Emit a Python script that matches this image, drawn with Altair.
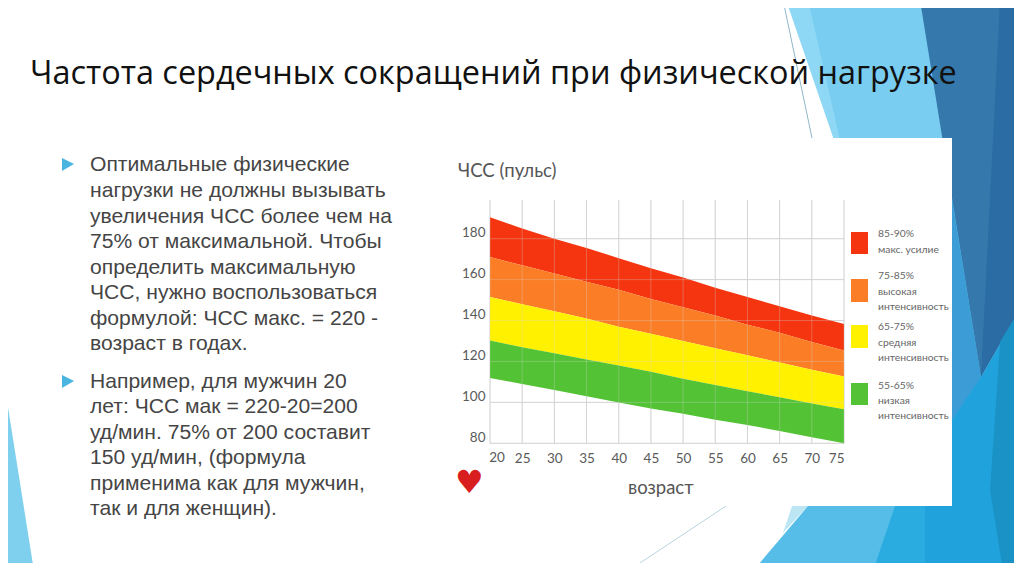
import altair as alt
import pandas as pd

W, H = 1006, 555
OX, OY = 8, 8

title_text = "Частота сердечных сокращений при физической нагрузке"
body_lines = [
    "Оптимальные физические", "нагрузки не должны вызывать", "увеличения ЧСС более чем на",
    "75% от максимальной. Чтобы", "определить максимальную", "ЧСС, нужно воспользоваться",
    "формулой: ЧСС макс. = 220 -", "возраст в годах.",
    "Например, для мужчин 20", "лет: ЧСС мак = 220-20=200", "уд/мин. 75% от 200 составит",
    "150 уд/мин, (формула", "применима как для мужчин,", "так и для женщин).",
]
body_y = [165, 191, 217, 242, 268, 293, 319, 344, 382, 407, 433, 458, 484, 509]

ages = [20, 25, 30, 35, 40, 45, 50, 55, 60, 65, 70, 75]
top_line = [190.5, 185, 180, 175.5, 170.5, 165.5, 161, 156, 151.5, 147, 142.5, 138.3]
red_orange = [171, 167, 163, 159, 155, 150.5, 146.5, 142.5, 138, 134, 129.5, 125.3]
orange_yellow = [151.5, 148, 144.5, 141, 137, 133.5, 130, 126.5, 123, 119.5, 116, 112.6]
yellow_green = [130.2, 127, 124, 121, 118, 115, 111.5, 108.5, 105.5, 102.5, 99.5, 96.6]
bottom_line = [111.9, 109, 106, 103, 100, 97, 94.5, 91.5, 89, 86, 83, 80]
pulse_ticks = [80, 100, 120, 140, 160, 180]

band_names = ["85-90%", "75-85%", "65-75%", "55-65%"]
band_colors = ["#f4350f", "#fb7e27", "#fff100", "#53c235"]
legend_lines = [
    ["85-90%", "макс. усилие"], ["75-85%", "высокая", "интенсивность"],
    ["65-75%", "средняя", "интенсивность"], ["55-65%", "низкая", "интенсивность"],
]
legend_swatch_y = [(232, 254), (279, 302), (325, 348), (383, 405)]
legend_text_y = [[234, 250], [276, 292, 307], [327, 343, 358], [386, 401, 416]]

# decorative slide shapes, in page pixels
decor = [
    ("#8fd8f5", [(786, 0), (925, 0), (960, 140), (960, 510), (834, 140)]),
    ("#79cdf0", [(808, 0), (921, 0), (982, 377), (952, 520), (840, 140)]),
    ("#56b7e6", [(900, 138), (945, 138), (982, 377), (952, 440), (952, 138)]),
    ("#3578ab", [(920, 0), (1022, 0), (1022, 306), (981, 377)]),
    ("#2a6ca3", [(1000, 0), (1022, 0), (1022, 306), (981, 377)]),
    ("#3c9dd6", [(952, 200), (981, 377), (952, 430)]),
    ("#bde6f5", [(792, 506), (808, 506), (783, 533)]),
    ("#56bde8", [(808, 506), (952, 506), (952, 571), (753, 571)]),
    ("#2bace0", [(895, 506), (952, 506), (952, 571), (873, 571)]),
    ("#20a3dc", [(952, 420), (981, 377), (1022, 306), (1022, 571), (925, 571), (925, 506), (952, 506)]),
    ("#1b92c6", [(1000, 342), (1022, 306), (1022, 571), (1003, 571), (990, 490)]),
    ("#7fd0ef", [(0, 357), (34, 571), (0, 571)]),
    ("#ffffff", [(440, 138), (952, 138), (952, 506), (440, 506)]),
    ("#4ab5e0", [(62, 158), (74, 164), (62, 171)]),
    ("#4ab5e0", [(62, 375), (74, 381), (62, 388)]),
]
features = [
    {"type": "Feature", "properties": {"fill": c},
     "geometry": {"type": "Polygon",
                  "coordinates": [[[x - OX, y - OY] for x, y in pts] + [[pts[0][0] - OX, pts[0][1] - OY]]]}}
    for c, pts in decor
]
shapes = alt.Chart(alt.InlineData(values=features)).mark_geoshape(stroke=None).encode(
    fill=alt.Fill("properties.fill:N", scale=None)
).project(type="identity", scale=1, translate=[0, 0])


def page_line(x1, y1, x2, y2, color, w=1):
    return alt.Chart(pd.DataFrame({"a": [0]})).mark_rule(color=color, strokeWidth=w).encode(
        x=alt.value(x1 - OX), x2=alt.value(x2 - OX), y=alt.value(y1 - OY), y2=alt.value(y2 - OY)
    )


def page_text(txt, x, y, **kw):
    return alt.Chart(pd.DataFrame({"t": [txt]})).mark_text(baseline="middle", align="left", **kw).encode(
        x=alt.value(x - OX), y=alt.value(y - OY), text="t:N"
    )


X = alt.Scale(domain=[20, 75], range=[490 - OX, 844 - OX])
Y = alt.Scale(domain=[80, 180], range=[443.3 - OY, 238.7 - OY])
AX = alt.Axis(values=ages[1:], title=None, grid=False, domain=False, ticks=False, zindex=1,
              offset=-(H - (443.3 - OY)), labelPadding=8, labelFontSize=13.5,
              labelFont="Lato", labelColor="#5a5a5a")
AY = alt.Axis(values=pulse_ticks, title=None, grid=False, domain=False, ticks=False, zindex=1,
              offset=-(490 - OX), labelPadding=5, labelOffset=-6, labelFontSize=13.5,
              labelFont="Lato", labelColor="#5a5a5a")

bounds = [top_line, red_orange, orange_yellow, yellow_green, bottom_line]
rows = []
for i, name in enumerate(band_names):
    for a, hi, lo in zip(ages, bounds[i], bounds[i + 1]):
        rows.append({"age": a, "hi": hi, "lo": lo, "band": name})
bands_df = pd.DataFrame(rows)

bands = alt.Chart(bands_df).mark_area(interpolate="linear").encode(
    x=alt.X("age:Q", scale=X, axis=AX),
    y=alt.Y("hi:Q", scale=Y, axis=AY),
    y2="lo:Q",
    color=alt.Color("band:N", scale=alt.Scale(domain=band_names, range=band_colors), legend=None),
)

v_df = pd.DataFrame({"age": ages, "lo": [80] * len(ages), "hi": [199] * len(ages)})
h_df = pd.DataFrame({"p": pulse_ticks, "a": [20] * len(pulse_ticks), "b": [75] * len(pulse_ticks)})


def grid(op):
    v = alt.Chart(v_df).mark_rule(color="#d4d4d4", opacity=op).encode(
        x=alt.X("age:Q", scale=X, axis=AX),
        y=alt.Y("lo:Q", scale=Y, axis=AY), y2="hi:Q")
    h = alt.Chart(h_df).mark_rule(color="#d4d4d4", opacity=op).encode(
        y=alt.Y("p:Q", scale=Y, axis=AY),
        x=alt.X("a:Q", scale=X, axis=AX), x2="b:Q")
    return [v, h]


first_tick = alt.Chart(pd.DataFrame({"age": [ages[0]], "p": [80], "t": [str(ages[0])]})).mark_text(
    dx=7, dy=15, font="Lato", fontSize=13.5, color="#5a5a5a"
).encode(x=alt.X("age:Q", scale=X, axis=AX), y=alt.Y("p:Q", scale=Y, axis=AY), text="t:N")

layers = [shapes,
          page_line(783, 0, 812, 138, "#8fb6c9"),
          page_line(726, 506, 628, 571, "#b5d5dd")]
layers += grid(1) + [bands] + grid(0.3) + [first_tick]

layers.append(page_text(title_text, 30, 74, font="Open Sans", fontSize=32.4, color="#111111"))
for line, y in zip(body_lines, body_y):
    layers.append(page_text(line, 90, y, font="Liberation Sans", fontSize=21.1, color="#454545"))
layers.append(page_text("ЧСС (пульс)", 458, 171, font="Lato", fontSize=18.5, color="#555555"))
layers.append(page_text("возраст", 628, 488, font="Lato", fontSize=18.5, color="#555555"))
layers.append(page_text("♥", 455, 483, font="DejaVu Sans", fontSize=32, color="#d81e1e"))

for name, col, (y1, y2), lines, ys in zip(band_names, band_colors, legend_swatch_y, legend_lines, legend_text_y):
    layers.append(alt.Chart(pd.DataFrame({"band": [name]})).mark_rect(color=col).encode(
        x=alt.value(851 - OX), x2=alt.value(868 - OX), y=alt.value(y1 - OY), y2=alt.value(y2 - OY)))
    for line, y in zip(lines, ys):
        layers.append(page_text(line, 878, y, font="Lato", fontSize=10.3, color="#666666"))

chart = alt.layer(*layers).properties(
    width=W, height=H, padding=0,
    autosize=alt.AutoSizeParams(type="none"),
).configure_view(stroke=None, clip=False)

chart.save("out.html", embed_options={"renderer": "svg", "actions": False})
